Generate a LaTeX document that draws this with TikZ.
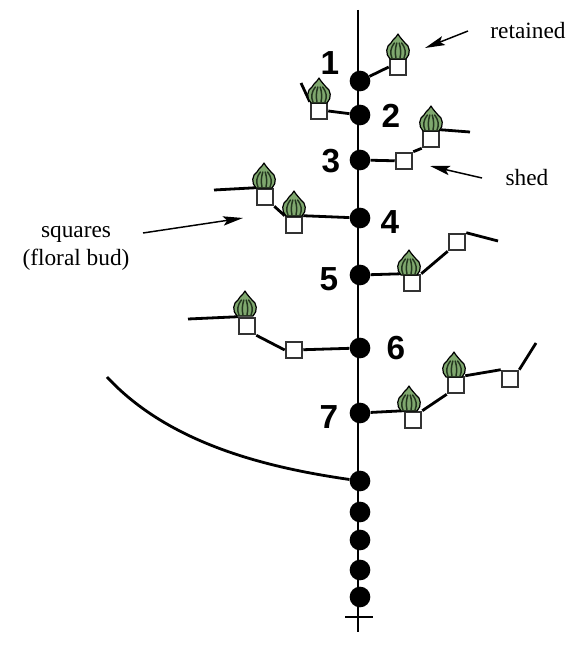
\documentclass[tikz,border=0pt]{standalone}
\usepackage{fontspec}
\setmainfont{Liberation Serif}
\newfontfamily\numfont{Liberation Sans}
\usetikzlibrary{arrows.meta}
\definecolor{budgreen}{HTML}{7FA86E}
\definecolor{budstripe}{HTML}{24361F}
\tikzset{
  x=0.75pt,y=-0.75pt,
  axil/.style={circle,fill=black,inner sep=0pt,minimum size=15.5pt},
  square/.style={rectangle,draw=black!80,line width=1.4pt,fill=white,inner sep=0pt,minimum size=12.5pt},
  branch/.style={line width=2.1pt,black},
  pointer/.style={line width=1.1pt,black,-{Stealth[length=15pt,width=7pt,inset=3pt]},shorten <=0pt},
  nodenum/.style={font=\numfont\bfseries\fontsize{25}{25}\selectfont,inner sep=0pt},
  caption/.style={font=\fontsize{17.5}{21}\selectfont,inner sep=0pt},
  pics/bud/.style={code={
    \draw[fill=budgreen,draw=black,line width=0.9pt,line join=round]
      (-8,11) .. controls (-13,6) and (-12,-2) .. (-7,-5)
      .. controls (-5,-9) and (-2,-10) .. (0,-14)
      .. controls (2,-10) and (5,-8) .. (7,-5)
      .. controls (12,-2) and (13,6) .. (8,11) -- cycle;
    \foreach \sx/\tx in {-6/-8,-2/-3,2/3,6/8}{
      \draw[budstripe,line width=1.1pt,line cap=round] (\sx,10) .. controls (\tx,5) and (\tx,1) .. (\sx*0.6,-5);
    }
  }}
}
\begin{document}
\begin{tikzpicture}
\useasboundingbox (0,0) rectangle (577,660);
\fill[white] (0,0) rectangle (577,660);

% main stem
\coordinate (top) at (358,10);
\coordinate (foot) at (358,632);
\draw[branch] (top) -- (foot);
\coordinate (crossL) at (345,617);
\coordinate (crossR) at (373,617);
\draw[line width=1.6pt] (crossL) -- (crossR);

% nodes along the stem
\foreach \n/\y in {d1/81,d2/115,d3/160,d4/218,d5/275,d6/348,d7/413,d8/481,d9/512,d10/540,d11/570,d12/597}{
  \node[axil] (\n) at (360,\y) {};
}

% free ends of the branches
\coordinate (e2) at (301,83);
\coordinate (e3) at (470,132);
\coordinate (e4) at (214,190);
\coordinate (e5) at (498,241);
\coordinate (e6) at (188,319);
\coordinate (e7) at (536,343);
\coordinate (e8) at (107,377);

% squares
\node[square] (s1) at (398,67) {};
\node[square] (s2) at (319,111) {};
\node[square] (s3a) at (404,161) {};
\node[square] (s3b) at (431,139) {};
\node[square] (s4a) at (294,225) {};
\node[square] (s4b) at (265,197) {};
\node[square] (s5a) at (412,283) {};
\node[square] (s5b) at (457,242) {};
\node[square] (s6a) at (294,350) {};
\node[square] (s6b) at (247,326) {};
\node[square] (s7a) at (413,420) {};
\node[square] (s7b) at (456,385) {};
\node[square] (s7c) at (510,379) {};

% branches
\draw[branch] (d1) -- (s1.west);
\draw[branch] (d2) -- (s2.east);
\draw[branch] (s2.north west) -- (e2);
\draw[branch] (d3) -- (s3a);
\draw[branch] (s3a.north east) -- (s3b.south west);
\draw[branch] (s3b.north east) -- (e3);
\draw[branch] (d4) -- (s4a.north east);
\draw[branch] (s4a.north west) -- (s4b.south east);
\draw[branch] (s4b.north west) -- (e4);
\draw[branch] (d5) -- (s5a.north west);
\draw[branch] (s5a.north east) -- (s5b.south west);
\draw[branch] (s5b.north east) -- (e5);
\draw[branch] (d6) -- (s6a);
\draw[branch] (s6a.west) -- (s6b.south east);
\draw[branch] (s6b.north west) -- (e6);
\draw[branch] (d7) -- (s7a.north west);
\draw[branch] (s7a.north east) -- (s7b.south west);
\draw[branch] (s7b.north east) -- (s7c.north west);
\draw[branch] (s7c.north east) -- (e7);
\draw[branch] (d8) .. controls (270,468) and (170,445) .. (e8);

% floral buds
\foreach \x/\y in {398/48,319/92,431/120,294/205,264/177,409/264,245/305,409/400,454/366}{
  \pic at (\x,\y) {bud};
}

% node numbers
\node[nodenum] (n1) at (330,63) {1};
\node[nodenum] (n2) at (391,116) {2};
\node[nodenum] (n3) at (331,161) {3};
\node[nodenum] (n4) at (390,222) {4};
\node[nodenum] (n5) at (329,279) {5};
\node[nodenum] (n6) at (396,348) {6};
\node[nodenum] (n7) at (329,417) {7};

% labels and their pointers
\node[caption] (retained) at (528,31) {retained};
\node[caption] (shed) at (527,178) {shed};
\node[caption,align=center] (sq) at (76,248) {squares\\(floral bud)};
\coordinate (pr0) at (468,31);
\coordinate (pr1) at (425,48);
\coordinate (ps0) at (482,178);
\coordinate (ps1) at (430,166);
\coordinate (pq0) at (143,233);
\coordinate (pq1) at (243,218);
\draw[pointer] (pr0) -- (pr1);
\draw[pointer] (ps0) -- (ps1);
\draw[pointer] (pq0) -- (pq1);
\end{tikzpicture}
\end{document}
